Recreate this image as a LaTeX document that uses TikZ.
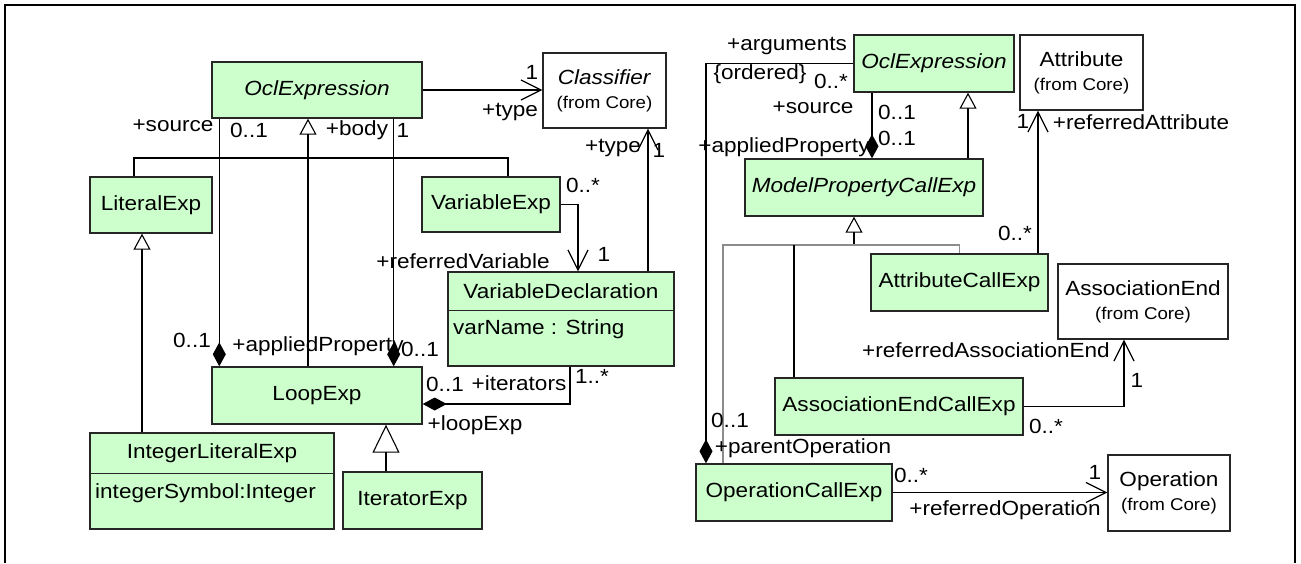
\documentclass[tikz,border=0pt]{standalone}
\usepackage{fontspec}
\setmainfont[FakeStretch=1.1]{Liberation Sans}
\usetikzlibrary{arrows.meta}
\definecolor{clsgreen}{HTML}{CCFFCC}
\newcommand{\core}{{\fontsize{17}{20}\selectfont (from Core)}}

\tikzset{
  cls/.style={draw=black!85, fill=clsgreen, line width=1.4pt, inner sep=0pt, align=center},
  ext/.style={cls, fill=white},
  lbl/.style={inner sep=0pt},
  assoc/.style={line width=1.3pt, -{Straight Barb[length=20pt,width=20pt,line width=1.2pt]}},
  gen/.style={line width=1.3pt, -{Triangle[open,length=16pt,width=17pt,line width=1.1pt]}},
  bigtri/.style={-{Triangle[open,length=28pt,width=27pt,line width=1.1pt]}},
  comp/.style={line width=1.3pt, {Diamond[length=24pt,width=13pt]}-},
  tree/.style={line width=1.3pt, draw=black!45},
}

\begin{document}
\begin{tikzpicture}[x=1pt, y=-1pt, font=\fontsize{20.5}{24}\selectfont]
  \useasboundingbox (0,0) rectangle (1301,563);
  \draw[line width=1.8pt] (5,563) -- (5,5) -- (1295,5) -- (1295,563);

  % expressions on the left
  \node[cls, minimum width=210pt, minimum height=56pt] (oclL) at (317,90) {\textit{OclExpression}};
  \node[ext, minimum width=123pt, minimum height=75pt] (classifier) at (604.5,90.5) {\textit{Classifier}\\\core};
  \node[cls, minimum width=122pt, minimum height=56pt] (literal) at (151,205) {LiteralExp};
  \node[cls, minimum width=138pt, minimum height=55pt] (varexp) at (491,204.5) {VariableExp};
  \node[cls, minimum width=226pt, minimum height=94pt] (vdecl) at (561,319) {};
  \node[lbl] (vdeclname) at (561,291.5) {VariableDeclaration};
  \node[lbl, anchor=west] (varname) at (453,329) {varName : String};
  \node[cls, minimum width=210pt, minimum height=57pt] (loop) at (317,395.5) {LoopExp};
  \node[cls, minimum width=244pt, minimum height=96pt] (intlit) at (212,481) {};
  \node[lbl] (intlitname) at (212,453.5) {IntegerLiteralExp};
  \node[lbl, anchor=west] (intsym) at (95,493) {integerSymbol:Integer};
  \node[cls, minimum width=139pt, minimum height=57pt] (iterator) at (412.5,500.5) {IteratorExp};
  \draw[line width=1.4pt, black!85] ([yshift=-39pt]vdecl.north west) -- ([yshift=-39pt]vdecl.north east);
  \draw[line width=1.4pt, black!85] ([yshift=-41pt]intlit.north west) -- ([yshift=-41pt]intlit.north east);

  % property calls on the right
  \node[cls, minimum width=160pt, minimum height=57pt] (oclR) at (934,63.5) {\textit{OclExpression}};
  \node[ext, minimum width=123pt, minimum height=75pt] (attribute) at (1081.5,72.5) {Attribute\\\core};
  \node[cls, minimum width=238pt, minimum height=57pt] (mpce) at (864,187.5) {\textit{ModelPropertyCallExp}};
  \node[cls, minimum width=177pt, minimum height=57pt] (attrcall) at (959.5,282.5) {AttributeCallExp};
  \node[ext, minimum width=170pt, minimum height=75pt] (assocend) at (1143,301.5) {AssociationEnd\\\core};
  \node[cls, minimum width=248pt, minimum height=57pt] (aecall) at (899,406.5) {AssociationEndCallExp};
  \node[cls, minimum width=196pt, minimum height=57pt] (opcall) at (794,492.5) {OperationCallExp};
  \node[ext, minimum width=122pt, minimum height=76pt] (operation) at (1169,493) {Operation\\\core};

  % left connectors
  \coordinate (genL) at (308,158);
  \draw[assoc] (oclL.east) -- (oclL.east -| classifier.west);
  \draw[gen] (loop.north -| genL) -- (oclL.south -| genL);
  \draw[line width=1.3pt] ([xshift=-17pt]literal.north) |- (genL) -| ([xshift=17pt]varexp.north);
  \draw[comp] ([xshift=8pt]loop.north west) -- ([xshift=8pt]oclL.south west);
  \draw[comp] ([xshift=-29pt]loop.north east) -- ([xshift=-29pt]oclL.south east);
  \draw[assoc] (varexp.east) -| ([xshift=17pt]vdecl.north);
  \draw[assoc] ([xshift=87pt]vdecl.north) -- ([xshift=43.5pt]classifier.south);
  \draw[comp] ([yshift=-8.5pt]loop.east) -| ([xshift=9pt]vdecl.south);
  \draw[gen] ([xshift=-70pt]intlit.north) -- ([xshift=-9pt]literal.south);
  \draw[gen, bigtri] ([xshift=-26.5pt]iterator.north) -- ([xshift=69pt]loop.south);

  % right connectors
  \coordinate (genR) at (854,245);
  \coordinate (aeTop) at ([xshift=-105pt]aecall.north);
  \draw[comp] ([xshift=8pt]mpce.north) -- ([xshift=-62pt]oclR.south);
  \draw[gen] ([xshift=104pt]mpce.north) -- ([xshift=34pt]oclR.south);
  \draw[comp] ([xshift=-88pt]opcall.north) |- (oclR.west);
  \draw[gen] (genR) -- ([xshift=-10pt]mpce.south);
  \draw[tree] ([xshift=-71pt]opcall.north) |- (genR) -| (attrcall.north);
  \draw[line width=1.3pt] (aeTop) -- (aeTop |- genR);
  \draw[assoc] ([xshift=78.5pt]attrcall.north) -- ([xshift=-43.5pt]attribute.south);
  \draw[assoc] (aecall.east) -| ([xshift=-19pt]assocend.south);
  \draw[assoc] (opcall.east) -- (opcall.east -| operation.west);

  % role names and multiplicities, left
  \node[lbl] (l1) at (532,72) {1};
  \node[lbl] (l2) at (510,112) {+type};
  \node[lbl] (l3) at (173,126) {+source};
  \node[lbl] (l4) at (249,130) {0..1};
  \node[lbl] (l5) at (357,130) {+body};
  \node[lbl] (l6) at (403,130) {1};
  \node[lbl] (l7) at (192,340) {0..1};
  \node[lbl] (l8) at (318,346) {+appliedProperty};
  \node[lbl] (l9) at (420,349) {0..1};
  \node[lbl] (l10) at (463,261) {+referredVariable};
  \node[lbl] (l11) at (583,185) {0..*};
  \node[lbl] (l12) at (604,254) {1};
  \node[lbl] (l13) at (613,148) {+type};
  \node[lbl] (l14) at (659,150) {1};
  \node[lbl] (l15) at (445,384) {0..1};
  \node[lbl] (l16) at (519,383) {+iterators};
  \node[lbl] (l17) at (592,376) {1..*};
  \node[lbl] (l18) at (475,425) {+loopExp};

  % role names and multiplicities, right
  \node[lbl] (r1) at (787,46) {+arguments};
  \node[lbl] (r2) at (760,74) {\{ordered\}};
  \node[lbl] (r3) at (831,81) {0..*};
  \node[lbl] (r4) at (813,108) {+source};
  \node[lbl] (r5) at (897,112) {0..1};
  \node[lbl] (r6) at (897,138) {0..1};
  \node[lbl] (r7) at (784,147) {+appliedProperty};
  \node[lbl] (r8) at (1015,233) {0..*};
  \node[lbl] (r9) at (1023,121) {1};
  \node[lbl] (r10) at (1141,122) {+referredAttribute};
  \node[lbl] (r11) at (986,350) {+referredAssociationEnd};
  \node[lbl] (r12) at (1137,380) {1};
  \node[lbl] (r13) at (1046,426) {0..*};
  \node[lbl] (r14) at (730,420) {0..1};
  \node[lbl] (r15) at (803,448) {+parentOperation};
  \node[lbl] (r16) at (911,475) {0..*};
  \node[lbl] (r17) at (1005,510) {+referredOperation};
  \node[lbl] (r18) at (1095,472) {1};
\end{tikzpicture}
\end{document}
